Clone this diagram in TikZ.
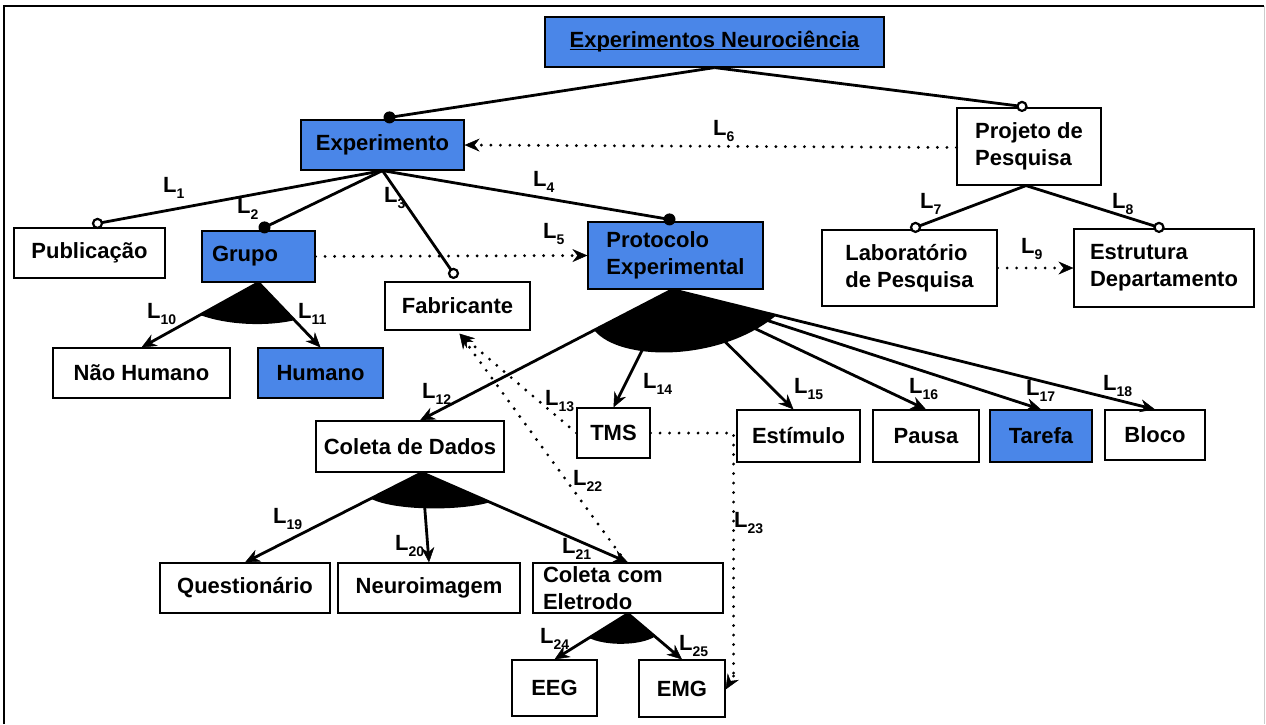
\documentclass[tikz,border=0pt]{standalone}
\usepackage{fontspec}
\setmainfont{Liberation Sans}
\usetikzlibrary{arrows.meta,calc}
\definecolor{nblue}{RGB}{74,134,232}
\newcommand\lbl[1]{L\raisebox{-6pt}{\fontsize{14}{14}\selectfont #1}}
\newcommand\ulin[1]{\leavevmode\rlap{\rule[-2.5pt]{\widthof{#1}}{1.3pt}}#1}
\usepackage{calc}
\begin{document}
\begin{tikzpicture}[x=1pt,y=-1pt,
 box/.style={draw, line width=1.2pt, inner sep=0pt, font=\bfseries\fontsize{22}{27}\selectfont, align=center},
 bl/.style={box, fill=nblue},
 edge/.style={line width=2.8pt},
 tip/.style={-{Stealth[length=15pt,width=13pt,inset=5pt,line width=0.5pt]}},
 arr/.style={edge, tip},
 dotl/.style={line width=3.2pt, line cap=round, dash pattern=on 0pt off 9.5pt},
 darr/.style={dotl, tip},
 lab/.style={font=\bfseries\fontsize{22}{22}\selectfont, inner sep=0pt, anchor=base west},
 opencirc/.style={draw, line width=2.2pt, fill=white},
]
\useasboundingbox (0,0) rectangle (1266,724);
\fill[white] (0,0) rectangle (1266,724);
\draw[line width=1.5pt] (4,724) -- (4,6) -- (1264,6);
\draw[black!20, line width=1pt] (1264,6) -- (1264,724);

% nodes
\node[bl, minimum width=339pt, minimum height=50pt] (root) at (714.5,42) {\ulin{Experimentos Neurociência}};
\node[bl, minimum width=163pt, minimum height=50pt] (exp) at (382.5,145) {Experimento};
\node[box, align=left, minimum width=144pt, minimum height=77pt] (proj) at (1029,146.5) {Projeto de\\Pesquisa};
\node[box, minimum width=151pt, minimum height=50pt] (pub) at (89.5,253) {Publicação};
\node[bl, align=left, text width=93pt, minimum width=113pt, minimum height=51pt] (grupo) at (258.5,256.5) {Grupo};
\node[box, minimum width=145pt, minimum height=48pt] (fab) at (457.5,306) {Fabricante};
\node[bl, align=left, minimum width=175pt, minimum height=67pt] (prot) at (675.5,255.5) {Protocolo\\Experimental};
\node[box, align=left, minimum width=175pt, minimum height=76pt] (lab) at (909.5,268) {Laboratório\\de Pesquisa};
\node[box, align=left, minimum width=180pt, minimum height=78pt] (estr) at (1164,268) {Estrutura\\Departamento};
\node[box, minimum width=177pt, minimum height=50pt] (nh) at (141.5,373) {Não Humano};
\node[bl, minimum width=125pt, minimum height=50pt] (hum) at (320.5,373) {Humano};
\node[box, minimum width=188pt, minimum height=51pt] (coleta) at (410,446.5) {Coleta de Dados};
\node[box, minimum width=73pt, minimum height=50pt] (tms) at (613.5,433) {TMS};
\node[box, minimum width=123pt, minimum height=52pt] (estim) at (798.5,436) {Estímulo};
\node[box, minimum width=106pt, minimum height=52pt] (pausa) at (926,436) {Pausa};
\node[bl, minimum width=102pt, minimum height=52pt] (tarefa) at (1041,436) {Tarefa};
\node[box, minimum width=100pt, minimum height=50pt] (bloco) at (1155,435) {Bloco};
\node[box, minimum width=170pt, minimum height=50pt] (quest) at (245,588) {Questionário};
\node[box, minimum width=182pt, minimum height=50pt] (neuro) at (429,588) {Neuroimagem};
\node[box, align=left, text width=170pt, minimum width=190pt, minimum height=50pt] (cce) at (628,588) {Coleta com\\Eletrodo};
\node[box, minimum width=85pt, minimum height=56pt] (eeg) at (554.5,688) {EEG};
\node[box, minimum width=86pt, minimum height=57pt] (emg) at (682,688.5) {EMG};

% attachment points
\coordinate (c-exp) at ([xshift=7pt,yshift=2pt]exp.north);
\coordinate (c-proj) at ([xshift=-7pt,yshift=1pt]proj.north);
\coordinate (c-pub) at ([xshift=8pt,yshift=4pt]pub.north);
\coordinate (c-grupo) at ([xshift=6pt,yshift=3pt]grupo.north);
\coordinate (c-fab) at ([xshift=-4pt,yshift=8pt]fab.north);
\coordinate (c-prot) at ([xshift=-6pt,yshift=2pt]prot.north);
\coordinate (c-lab) at ([xshift=6pt,yshift=2pt]lab.north);
\coordinate (c-estr) at ([xshift=-5pt,yshift=1pt]estr.north);
\coordinate (pA) at ([xshift=-3pt]prot.south);
\coordinate (cA) at ([xshift=12pt]coleta.south);
\coordinate (ct) at ([xshift=10pt]coleta.north);
\coordinate (et) at ([xshift=-5pt]estim.north);
\coordinate (fabA) at ([xshift=2pt,yshift=-3pt]fab.south);
\coordinate (bend1) at ([xshift=83pt]tms.east);
\coordinate (bend2) at (bend1 |- 0,676);

% solid tree edges
\draw[edge] (root.south) -- (c-exp);
\draw[edge] (root.south) -- (c-proj);
\draw[edge] (exp.south) -- (c-pub);
\draw[edge] (exp.south) -- (c-grupo);
\draw[edge] (exp.south) -- (c-fab);
\draw[edge] (exp.south) -- (c-prot);
\draw[edge] ([xshift=-3pt]proj.south) -- (c-lab);
\draw[edge] ([xshift=-3pt]proj.south) -- (c-estr);
\fill (c-exp) circle (6);
\fill (c-grupo) circle (6);
\fill (c-prot) circle (6);
\draw[opencirc] (c-proj) circle (4.5);
\draw[opencirc] (c-pub) circle (4.5);
\draw[opencirc] (c-fab) circle (4.5);
\draw[opencirc] (c-lab) circle (4.5);
\draw[opencirc] (c-estr) circle (4.5);

% group sectors
\fill (grupo.south) -- ($(grupo.south)!0.5!(nh.north)$) .. controls (230,326) and (270,326) .. ($(grupo.south)!0.58!(hum.north)$) -- cycle;
\fill (pA) -- ($(pA)!0.31!(ct)$) .. controls (620,362) and (720,362) .. ($(pA)!0.215!(bloco.north)$) -- cycle;
\fill (cA) -- ($(cA)!0.29!(quest.north)$) .. controls (395,511) and (460,511) .. ($(cA)!0.33!(cce.north)$) -- cycle;
\fill (cce.south) -- ($(cce.south)!0.53!(eeg.north)$) .. controls (605,646) and (640,646) .. ($(cce.south)!0.5!(emg.north)$) -- cycle;

% arrows
\draw[arr] (grupo.south) -- (nh.north);
\draw[arr] (grupo.south) -- (hum.north);
\draw[arr] (pA) -- (ct);
\draw[arr] (pA) -- (tms.north);
\draw[arr] (pA) -- (et);
\draw[arr] (pA) -- (pausa.north);
\draw[arr] (pA) -- (tarefa.north);
\draw[arr] (pA) -- (bloco.north);
\draw[arr] (cA) -- (quest.north);
\draw[arr] (cA) -- (neuro.north);
\draw[arr] (cA) -- (cce.north);
\draw[arr] (cce.south) -- (eeg.north);
\draw[arr] (cce.south) -- (emg.north);

% dotted relations
\draw[darr] ([yshift=-1pt]proj.west) -- (exp.east);
\draw[darr] (grupo.east) -- (prot.west);
\draw[darr] (lab.east) -- (estr.west);
\draw[darr] (tms.west) -- (fabA);
\draw[darr] ([xshift=-2pt]cce.north) -- (fabA);
\draw[dotl] (tms.east) -- (bend1) -- (bend2);
\draw[darr] (bend2) -- ([yshift=-1pt]emg.east);

% labels
\node[lab] (l1) at (163,192) {\lbl{1}};
\node[lab] (l2) at (237,213) {\lbl{2}};
\node[lab] (l3) at (384,202) {\lbl{3}};
\node[lab] (l4) at (533,186) {\lbl{4}};
\node[lab] (l5) at (543,238) {\lbl{5}};
\node[lab] (l6) at (713,135) {\lbl{6}};
\node[lab] (l7) at (920,208) {\lbl{7}};
\node[lab] (l8) at (1112,208) {\lbl{8}};
\node[lab] (l9) at (1021,253) {\lbl{9}};
\node[lab] (l10) at (147,318) {\lbl{10}};
\node[lab] (l11) at (298,318) {\lbl{11}};
\node[lab] (l12) at (422,398) {\lbl{12}};
\node[lab] (l13) at (545,405) {\lbl{13}};
\node[lab] (l14) at (643,388) {\lbl{14}};
\node[lab] (l15) at (794,393) {\lbl{15}};
\node[lab] (l16) at (909,393) {\lbl{16}};
\node[lab] (l17) at (1026,395) {\lbl{17}};
\node[lab] (l18) at (1103,390) {\lbl{18}};
\node[lab] (l19) at (273,523) {\lbl{19}};
\node[lab] (l20) at (395,550) {\lbl{20}};
\node[lab] (l21) at (562,553) {\lbl{21}};
\node[lab] (l22) at (573,485) {\lbl{22}};
\node[lab] (l23) at (734,527) {\lbl{23}};
\node[lab] (l24) at (540,643) {\lbl{24}};
\node[lab] (l25) at (679,650) {\lbl{25}};
\end{tikzpicture}
\end{document}
